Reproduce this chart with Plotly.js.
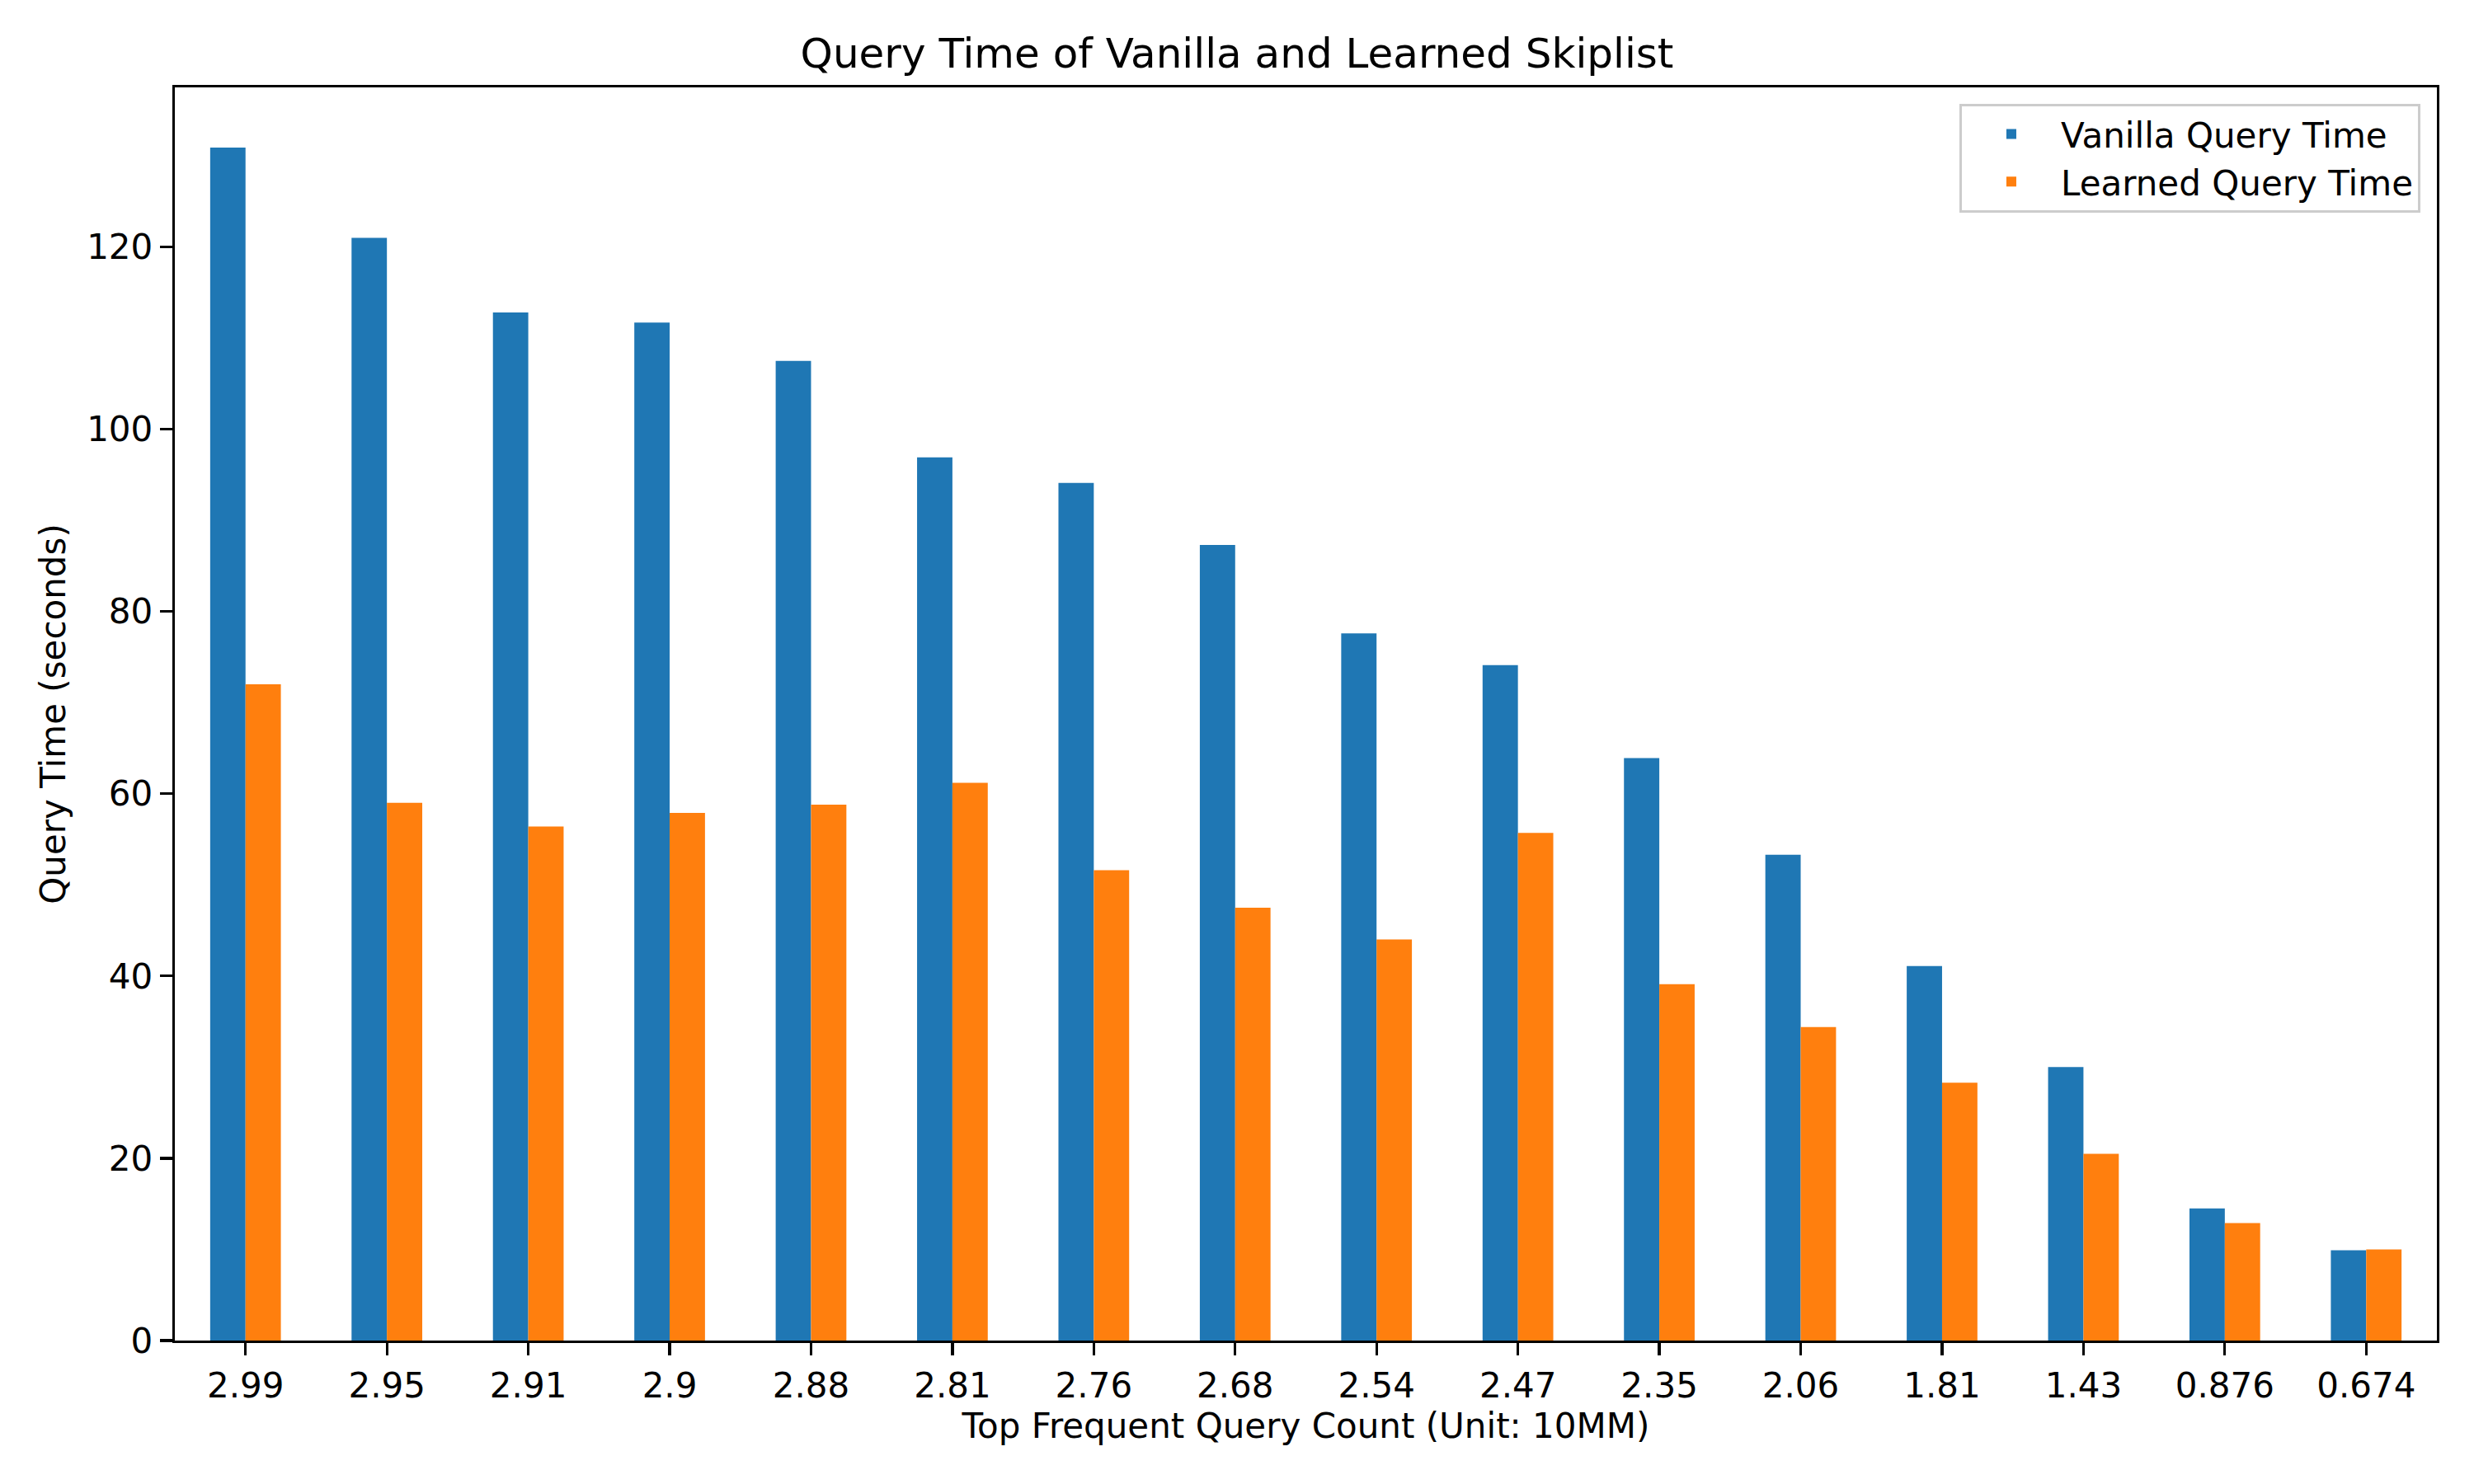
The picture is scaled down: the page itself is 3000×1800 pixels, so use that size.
<!DOCTYPE html>
<html>
<head>
<meta charset="utf-8">
<script src="https://cdn.plot.ly/plotly-3.0.1.min.js"></script>
<style>
  body { margin: 0; background: #fff; }
  #chart { width: 3000px; height: 1800px; }
</style>
</head>
<body>
<div id="chart"></div>
<script>
// query counts (unit: 10MM), as shown on the x axis
const queryCounts = ['2.99', '2.95', '2.91', '2.9', '2.88', '2.81', '2.76', '2.68',
    '2.54', '2.47', '2.35', '2.06', '1.81', '1.43', '0.876', '0.674'];

// query times in seconds
const vanillaTimes = [130.9, 121.0, 112.8, 111.7, 107.5, 96.9, 94.1, 87.3,
    77.6, 74.1, 63.9, 53.3, 41.1, 30.0, 14.5, 9.9];
const learnedTimes = [72.0, 59.0, 56.4, 57.9, 58.8, 61.2, 51.6, 47.5,
    44.0, 55.7, 39.1, 34.4, 28.3, 20.5, 12.9, 10.0];

const fontFamily = 'DejaVu Sans, sans-serif';

const vanillaTrace = {
    x: queryCounts,
    y: vanillaTimes,
    name: 'Vanilla Query Time',
    type: 'bar',
    marker: { color: '#1f77b4' },
};

const learnedTrace = {
    x: queryCounts,
    y: learnedTimes,
    name: 'Learned Query Time',
    type: 'bar',
    marker: { color: '#ff7f0e' },
};

const layout = {
    width: 3000,
    height: 1800,
    paper_bgcolor: '#fff',
    plot_bgcolor: '#fff',
    font: { family: fontFamily, size: 42, color: '#000' },
    margin: { l: 212, r: 45, t: 106, b: 174 },
    barmode: 'group',
    bargap: 0.5,
    bargroupgap: 0,
    title: {
        text: 'Query Time of Vanilla and Learned Skiplist',
        font: { size: 50 },
        x: 0.5,
        xanchor: 'center',
        y: 1 - 64 / 1800,
        yanchor: 'middle',
    },
    xaxis: {
        type: 'category',
        range: [-0.5, 15.5],
        title: { text: 'Top Frequent Query Count (Unit: 10MM)', font: { size: 42 }, standoff: 12 },
        showline: true,
        linecolor: '#000',
        linewidth: 3.3,
        mirror: true,
        ticks: 'outside',
        ticklen: 15,
        tickwidth: 3.3,
        tickcolor: '#000',
        showgrid: false,
        zeroline: false,
    },
    yaxis: {
        range: [0, 137.5],
        tickvals: [0, 20, 40, 60, 80, 100, 120],
        title: { text: 'Query Time (seconds)', font: { size: 42 }, standoff: 13 },
        showline: true,
        linecolor: '#000',
        linewidth: 3.3,
        mirror: true,
        ticks: 'outside',
        ticklen: 15,
        tickwidth: 3.3,
        tickcolor: '#000',
        showgrid: false,
        zeroline: false,
    },
    legend: {
        x: 0.9927,
        xanchor: 'right',
        y: 0.987,
        yanchor: 'top',
        bgcolor: 'rgba(255,255,255,0.8)',
        bordercolor: '#cccccc',
        borderwidth: 3,
        itemwidth: 110,
        font: { size: 42 },
    },
    showlegend: true,
};

Plotly.newPlot('chart', [vanillaTrace, learnedTrace], layout, { staticPlot: true });
</script>
</body>
</html>
